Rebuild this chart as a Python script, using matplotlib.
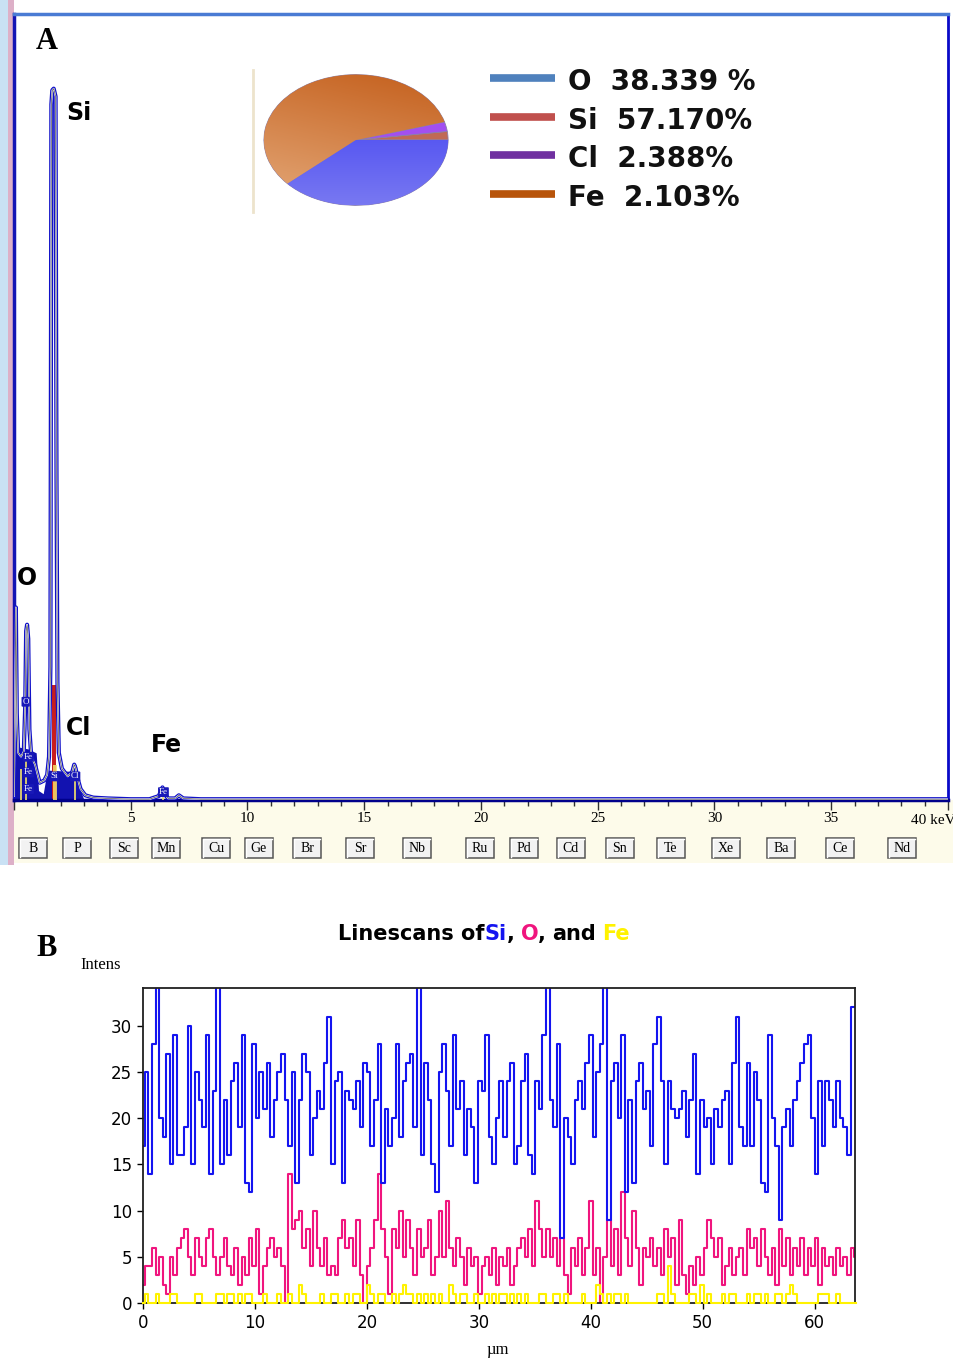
import numpy as np
import matplotlib
matplotlib.use('Agg')
import matplotlib.pyplot as plt
import matplotlib.transforms as mtransforms
from matplotlib.patches import Rectangle
from matplotlib.colors import LinearSegmentedColormap

# ---------------- panel A : EDX spectrum ----------------
spec_kev = [0.00, 0.04, 0.08, 0.12, 0.18, 0.30, 0.42, 0.48, 0.52, 0.56,
            0.61, 0.66, 0.74, 0.90, 1.10, 1.30, 1.42, 1.50, 1.56, 1.60,
            1.64, 1.70, 1.78, 1.82, 1.86, 1.92, 2.05, 2.30, 2.50, 2.58,
            2.64, 2.72, 2.85, 3.05, 3.40, 4.00, 5.00, 5.80, 6.20, 6.36,
            6.44, 6.60, 6.90, 7.06, 7.25, 8.00, 12.0, 20.0, 30.0, 40.0]
spec_counts = [5, 110, 245, 110, 60, 55, 62, 120, 215, 223,
               205, 90, 55, 45, 22, 25, 32, 55, 170, 885,
               903, 905, 895, 410, 150, 60, 40, 30, 36, 45,
               40, 28, 14, 6, 3, 2, 1, 1, 5, 16,
               8, 2, 2, 6, 2, 1, 1, 1, 1, 1]

# dark filled background under the low-energy lines
blob_kev = [0.00, 0.03, 0.10, 0.60, 0.95, 1.05, 1.25, 1.35, 1.45, 2.75, 2.85, 3.00]
blob_counts = [0, 70, 68, 65, 60, 12, 8, 25, 38, 36, 12, 0]

si_red_kev = [1.63, 1.79]
si_red_top = 146

marker_kev = [0.28, 0.52, 1.72, 1.80, 2.62, 6.40]
marker_top = [40, 55, 45, 45, 25, 12]

tag_names = ["O", "Fe", "Fe", "Fe", "Si", "Cl", "Fe"]
tag_kev = [0.50, 0.62, 0.62, 0.62, 1.72, 2.62, 6.40]
tag_counts = [125, 55, 35, 14, 30, 30, 10]

peak_names = ["Si", "O", "Cl", "Fe"]
peak_kev = [2.23, 0.13, 2.23, 5.87]
peak_counts = [874, 282, 92, 70]

button_names = ["B", "P", "Sc", "Mn", "Cu", "Ge", "Br", "Sr", "Nb", "Ru",
                "Pd", "Cd", "Sn", "Te", "Xe", "Ba", "Ce", "Nd"]
button_px = [33, 77, 124, 166, 216, 259, 307, 360, 417, 480,
             524, 571, 620, 671, 726, 781, 840, 902]

# composition (pie + legend)
comp_names = ["O", "Si", "Cl", "Fe"]
comp_pct = [38.339, 57.170, 2.388, 2.103]
comp_text = ["O  38.339 %", "Si  57.170%", "Cl  2.388%", "Fe  2.103%"]
comp_legend_colors = ["#4F81BD", "#C0504D", "#7030A0", "#B8540A"]

# ---------------- panel B : line scans ----------------
step_um = 0.32
si_counts = [17, 25, 14, 28, 35, 20, 18, 27, 15, 29,
             16, 16, 19, 30, 15, 25, 22, 19, 29, 14,
             23, 35, 15, 22, 16, 24, 26, 19, 29, 13,
             12, 28, 20, 25, 21, 26, 18, 22, 25, 27,
             22, 17, 25, 13, 22, 27, 25, 16, 20, 23,
             21, 26, 31, 15, 24, 25, 13, 23, 22, 21,
             24, 19, 26, 25, 17, 22, 28, 13, 21, 17,
             20, 28, 18, 24, 26, 27, 19, 35, 16, 26,
             22, 15, 12, 25, 28, 23, 17, 29, 21, 24,
             16, 21, 19, 13, 24, 23, 29, 18, 15, 20,
             24, 18, 24, 26, 15, 17, 24, 27, 16, 14,
             24, 21, 29, 35, 22, 19, 28, 7, 20, 18,
             15, 22, 24, 21, 26, 29, 18, 25, 28, 35,
             9, 24, 26, 20, 29, 12, 22, 13, 24, 26,
             21, 23, 17, 28, 31, 24, 15, 24, 21, 20,
             21, 23, 18, 22, 27, 14, 22, 19, 20, 15,
             21, 19, 22, 23, 15, 26, 31, 19, 17, 26,
             17, 25, 22, 13, 12, 29, 20, 17, 9, 19,
             21, 17, 22, 24, 26, 28, 29, 20, 14, 24,
             17, 24, 22, 19, 24, 20, 19, 16, 32, 32]
o_counts = [2, 4, 4, 6, 3, 5, 2, 1, 5, 3,
            6, 7, 8, 5, 3, 7, 5, 4, 7, 8,
            5, 3, 5, 7, 4, 3, 6, 2, 5, 3,
            7, 4, 8, 1, 4, 6, 7, 5, 6, 4,
            0, 14, 8, 9, 10, 6, 8, 4, 10, 6,
            4, 7, 3, 4, 3, 7, 9, 6, 7, 4,
            9, 3, 0, 4, 6, 9, 14, 8, 5, 1,
            8, 6, 10, 5, 9, 6, 3, 8, 5, 6,
            9, 3, 5, 10, 5, 11, 6, 4, 7, 5,
            2, 6, 4, 5, 1, 4, 5, 3, 6, 2,
            5, 4, 6, 2, 4, 6, 7, 5, 8, 4,
            11, 8, 5, 8, 5, 7, 4, 7, 3, 1,
            6, 4, 7, 3, 6, 11, 3, 6, 0, 5,
            9, 4, 8, 3, 12, 7, 4, 10, 6, 2,
            6, 5, 7, 4, 6, 3, 8, 5, 7, 2,
            9, 3, 1, 4, 2, 5, 3, 6, 9, 7,
            5, 7, 2, 4, 6, 3, 5, 6, 3, 8,
            6, 7, 4, 8, 5, 3, 6, 2, 8, 4,
            7, 3, 6, 4, 7, 3, 6, 4, 7, 2,
            6, 4, 5, 3, 6, 4, 5, 3, 6, 5]
fe_counts = [0, 1, 0, 0, 1, 0, 0, 0, 1, 1, 0, 0, 0, 0, 0, 1, 1, 0, 0, 0,
             0, 1, 1, 0, 1, 1, 0, 1, 0, 1, 1, 0, 0, 0, 1, 0, 0, 0, 1, 0,
             0, 1, 0, 0, 2, 1, 0, 0, 0, 0, 1, 0, 0, 1, 1, 0, 0, 1, 0, 1,
             1, 0, 0, 2, 1, 0, 1, 1, 0, 0, 1, 0, 1, 2, 1, 1, 0, 1, 0, 1,
             0, 1, 0, 1, 0, 0, 2, 1, 0, 1, 1, 0, 0, 1, 0, 0, 1, 0, 1, 0,
             1, 1, 0, 1, 0, 1, 0, 1, 0, 0, 0, 1, 1, 0, 0, 1, 1, 0, 1, 0,
             0, 0, 0, 1, 0, 0, 0, 2, 1, 0, 1, 0, 1, 1, 0, 1, 0, 0, 0, 0,
             0, 0, 0, 0, 1, 1, 0, 4, 1, 0, 0, 0, 0, 1, 1, 0, 2, 0, 1, 0,
             0, 0, 1, 0, 1, 1, 0, 0, 0, 1, 0, 1, 1, 0, 1, 0, 0, 1, 1, 0,
             1, 2, 1, 0, 0, 0, 0, 0, 0, 1, 1, 1, 0, 0, 1, 0, 0, 0, 0, 0]

W, H = 954, 1359
fig = plt.figure(figsize=(W / 100, H / 100), dpi=100)


def px_axes(l, t, r, b):
    return fig.add_axes([l / W, 1 - b / H, (r - l) / W, (b - t) / H])


def pixel_canvas(ax, top):
    ax.set_xlim(0, W)
    ax.set_ylim(top, 0)
    ax.axis('off')
    ax.patch.set_alpha(0)


# background of the spectrum window
bg = px_axes(0, 0, W, 865)
pixel_canvas(bg, 865)
bg.add_patch(Rectangle((0, 0), 8, 865, fc='#C9E1F4', lw=0))
bg.add_patch(Rectangle((8, 0), 6, 865, fc='#DDB0C8', lw=0))
bg.add_patch(Rectangle((14, 800), W - 14, 63, fc='#FDFBEA', lw=0))
for name, cx in zip(button_names, button_px):
    bg.add_patch(Rectangle((cx - 14, 838), 28, 20, fc='#F2F2F2', ec='#555555', lw=1.1))
    bg.plot([cx - 13, cx - 13, cx + 13], [857, 839, 839], color='white', lw=1)
    bg.text(cx, 848.5, name, ha='center', va='center', fontsize=10,
            family='Liberation Serif')

# spectrum
sx = px_axes(14, 14, 948, 800)
sx.set_zorder(2)
sx.set_xlim(0, 40)
sx.set_ylim(0, 1000)
sx.fill_between(blob_kev, 0, blob_counts, color='#1212B0', lw=0, zorder=2)
sx.fill_between(si_red_kev, 0, si_red_top, color='#C81E1E', lw=0, zorder=2.5)
sx.plot(spec_kev, spec_counts, color='#1010C8', lw=3.0, zorder=3)
sx.plot(spec_kev, spec_counts, color='white', lw=1.2, zorder=3.1)
sx.plot(spec_kev, spec_counts, color='#404040', lw=0.45, zorder=3.2)
sx.vlines(marker_kev, 0, marker_top, color='#F4E46A', lw=1.2, zorder=3.3)
for name, e, c in zip(tag_names, tag_kev, tag_counts):
    sx.text(e, c, name, fontsize=6.5, family='Liberation Serif', color='white',
            ha='center', va='center', zorder=4,
            bbox=dict(boxstyle='round,pad=0.1', fc='#1818B8', ec='none'))
for name, e, c in zip(peak_names, peak_kev, peak_counts):
    sx.text(e, c, name, fontsize=17, fontweight='bold', ha='left', va='center', zorder=5)
sx.set_yticks([])
sx.set_xticks(range(0, 41, 5))
sx.set_xticks(range(0, 41), minor=True)
sx.set_xticklabels(['', '5', '10', '15', '20', '25', '30', '35', ''],
                   fontfamily='Liberation Serif', fontsize=11)
sx.tick_params(axis='x', which='major', direction='out', length=7, width=1,
               color='#303030', pad=2)
sx.tick_params(axis='x', which='minor', direction='out', length=4.5, width=1,
               color='#303030')
blend = mtransforms.blended_transform_factory(sx.transData, sx.transAxes)
sx.text(38.4, -0.026, '40 keV', transform=blend, ha='left', va='center',
        fontsize=11, family='Liberation Serif', clip_on=False)
sx.spines['left'].set(color='#1414B4', lw=2.5)
sx.spines['top'].set(color='#4A7BD4', lw=2.5)
sx.spines['right'].set(color='#0A0AC8', lw=2)
sx.spines['bottom'].set(color='#00008B', lw=2.5)
sx.text(0.023, 0.965, 'A', transform=sx.transAxes, fontsize=22, fontweight='bold',
        family='Liberation Serif', ha='left', va='center')

# overlay: divider line and legend of the composition
ov = px_axes(0, 0, W, 865)
ov.set_zorder(3)
pixel_canvas(ov, 865)
ov.plot([253, 253], [70, 212], color='#EDE3CC', lw=2)
for i, (txt, col) in enumerate(zip(comp_text, comp_legend_colors)):
    yy = 78 + 38.6 * i
    ov.plot([490, 555], [yy, yy], color=col, lw=5.5, solid_capstyle='butt')
    ov.text(568, yy + 1, txt, fontsize=20, fontweight='bold', ha='left',
            va='center_baseline', color='#111111')

# pie (drawn as an ellipse)
pax = px_axes(263, 74, 449, 206)
pax.set_zorder(4)
pie_vals = [comp_pct[3], comp_pct[2], comp_pct[1], comp_pct[0]]
pie_cols = ['#C06A55', '#A24FF0', '#D27A3C', '#5050F2']
wedges, _ = pax.pie(pie_vals, colors=pie_cols, startangle=0, counterclock=True,
                    wedgeprops=dict(linewidth=0.6, edgecolor='#8A7FA8'))
pax.set_aspect('auto')
gx, gy = np.meshgrid(np.linspace(0, 1, 128), np.linspace(0, 1, 128))
orange_cmap = LinearSegmentedColormap.from_list('o', ['#E4A878', '#C45F1C'])
blue_cmap = LinearSegmentedColormap.from_list('b', ['#7878F2', '#3838F0'])
im1 = pax.imshow(0.75 * gy + 0.25 * gx, extent=[-1, 1, -1, 1], origin='lower',
                 cmap=orange_cmap, aspect='auto', zorder=1.5)
im1.set_clip_path(wedges[2])
im2 = pax.imshow(gy, extent=[-1, 1, -1, 1], origin='lower',
                 cmap=blue_cmap, aspect='auto', zorder=1.5)
im2.set_clip_path(wedges[3])
pax.set_xlim(-1.01, 1.01)
pax.set_ylim(-1.01, 1.01)

# ---------------- panel B ----------------
lx = px_axes(143, 988, 855, 1303)
dist = np.arange(len(si_counts)) * step_um
lx.plot(dist, o_counts, color='#F0157E', lw=1.5, drawstyle='steps-mid')
lx.plot(dist, si_counts, color='#1414F0', lw=1.5, drawstyle='steps-mid')
lx.plot(dist, fe_counts, color='#FFF200', lw=1.5, drawstyle='steps-mid',
        zorder=3, clip_on=False)
lx.set_xlim(0, 63.6)
lx.set_ylim(0, 34.1)
lx.set_xticks(range(0, 61, 10))
lx.set_yticks(range(0, 31, 5))
lx.tick_params(direction='out', length=4, width=1, labelsize=12, pad=4)
for sp in lx.spines.values():
    sp.set(lw=1.3, color='#202020')

fig.text(36 / W, 1 - 948 / H, 'B', fontsize=22, fontweight='bold',
         family='Liberation Serif', ha='left', va='center')
fig.text(80 / W, 1 - 965 / H, 'Intens', fontsize=12, family='Liberation Serif',
         ha='left', va='center')
fig.text(498 / W, 1 - 1350 / H, 'µm', fontsize=12, family='Liberation Serif',
         ha='center', va='center')

title_parts = [("Linescans of", 'black', 0), ("Si", '#1414F0', 0), (",", 'black', 0),
               ("O", '#F0157E', 4.5), (",", 'black', 0), ("and", 'black', 4.5),
               ("Fe", '#FFF200', 4.5)]
t = fig.text(338 / W, 1 - 940 / H, title_parts[0][0], color=title_parts[0][1],
             fontsize=15, fontweight='bold', ha='left', va='baseline')
for s, c, gap in title_parts[1:]:
    t = lx.annotate(s, xy=(1, 0), xycoords=t, xytext=(gap, 0),
                    textcoords='offset points', color=c, fontsize=15,
                    fontweight='bold', ha='left', va='bottom',
                    annotation_clip=False)

fig.savefig('out.png', dpi=100)
